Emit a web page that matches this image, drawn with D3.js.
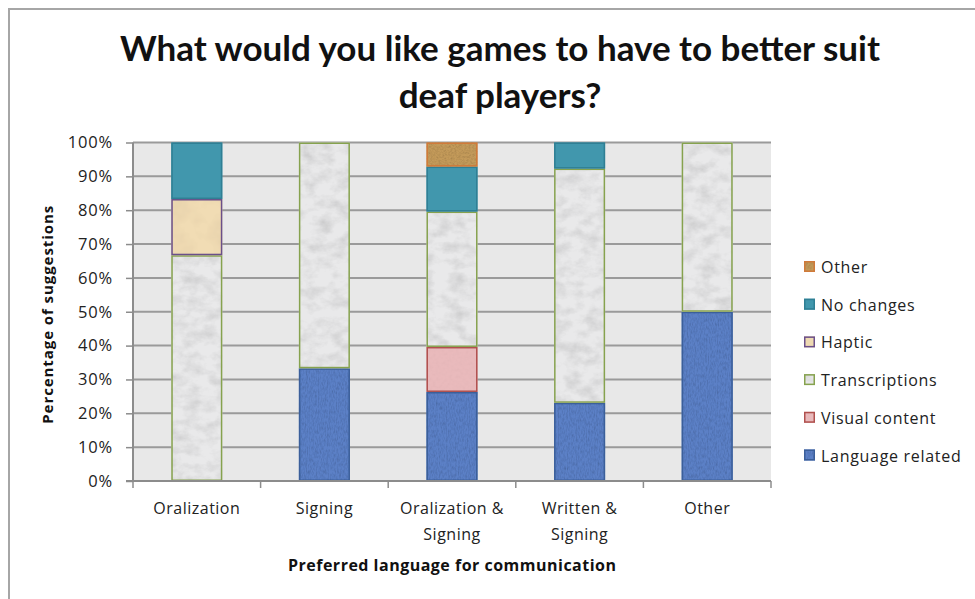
<!DOCTYPE html>
<html><head><meta charset="utf-8">
<script src="https://cdn.jsdelivr.net/npm/d3@7"></script>
<style>
html,body{margin:0;padding:0;background:#fff;}
svg{display:block;}
text{font-family:"Open Sans",Lato,sans-serif;}
</style></head>
<body>
<svg id="chart" width="975" height="599"></svg>
<script>
const categories = [["Oralization"],["Signing"],["Oralization &","Signing"],["Written &","Signing"],["Other"]];
const seriesNames = ["Language related","Visual content","Transcriptions","Haptic","No changes","Other"];
const languageRelated = [0, 33.3, 26.3, 23.1, 50];
const visualContent   = [0, 0, 13.3, 0, 0];
const transcriptions  = [66.7, 66.7, 40.0, 69.2, 50];
const haptic          = [16.6, 0, 0, 0, 0];
const noChanges       = [16.7, 0, 13.3, 7.7, 0];
const otherVals       = [0, 0, 7.1, 0, 0];
const yTicks = [0,10,20,30,40,50,60,70,80,90,100];

const fills   = ["#5b80c6","#e9babc","#e9e9ea","#f1dcb4","#4197ad","#c39a5a"];
const strokes = ["#3b5f9a","#b0504e","#86a24e","#6a4f8a","#2f7f94","#d07a3a"];
const textures = ["weave","smooth","marble","paper","none","sand"];

const svg = d3.select("#chart");
const W = 975, H = 599;
const m = {left:133, right:204, top:142.5, bottom:118};
const pw = W - m.left - m.right, ph = H - m.top - m.bottom;

// frame
svg.append("rect").attr("x",9).attr("y",9).attr("width",1000).attr("height",700)
  .attr("fill","#fff").attr("stroke","#a6a6a6").attr("stroke-width",2);

// filters for textures
const defs = svg.append("defs");
function makeFilter(id, freq, oct, amount, seed){
  const f = defs.append("filter").attr("id",id).attr("x",0).attr("y",0).attr("width",1).attr("height",1);
  f.append("feTurbulence").attr("type","fractalNoise").attr("baseFrequency",freq).attr("numOctaves",oct).attr("seed",seed).attr("result","noise");
  f.append("feColorMatrix").attr("in","noise").attr("type","luminanceToAlpha").attr("result","la");
  const ct = f.append("feComponentTransfer").attr("in","la").attr("result","la2");
  ct.append("feFuncA").attr("type","linear").attr("slope",amount*2.2).attr("intercept",-amount*0.9);
  f.append("feComposite").attr("in","la2").attr("in2","SourceGraphic").attr("operator","in").attr("result","tex");
  const mg = f.append("feMerge");
  mg.append("feMergeNode").attr("in","SourceGraphic");
  mg.append("feMergeNode").attr("in","tex");
}
makeFilter("weave","0.9 0.25",2,0.35,3);
makeFilter("marble","0.06 0.09",4,0.28,7);
makeFilter("paper","0.05",3,0.12,5);
makeFilter("sand","0.5",3,0.3,9);
makeFilter("smooth","0.3",2,0.05,4);

const g = svg.append("g").attr("transform",`translate(${m.left},${m.top})`);

const x = d3.scaleBand().domain(d3.range(categories.length)).range([0,pw]).paddingInner(0.6).paddingOuter(0.3);
const y = d3.scaleLinear().domain([0,100]).range([ph,0]);

// plot background
g.append("rect").attr("width",pw).attr("height",ph).attr("fill","#e8e8e8");

// gridlines
g.append("g").selectAll("line").data(yTicks.filter(d=>d>0)).join("line")
  .attr("x1",0).attr("x2",pw).attr("y1",d=>y(d)).attr("y2",d=>y(d))
  .attr("stroke","#9a9a9a").attr("stroke-width",2);

// data rows
const rows = categories.map((c,i)=>({
  "Language related":languageRelated[i],"Visual content":visualContent[i],"Transcriptions":transcriptions[i],
  "Haptic":haptic[i],"No changes":noChanges[i],"Other":otherVals[i], idx:i}));
const stacked = d3.stack().keys(seriesNames)(rows);

stacked.forEach((s,si)=>{
  const gs = g.append("g");
  const segs = s.filter(d=>d[1]-d[0]>0.01);
  gs.selectAll("rect.f").data(segs).join("rect").attr("class","f")
    .attr("x",d=>x(d.data.idx)).attr("width",x.bandwidth())
    .attr("y",d=>y(d[1])).attr("height",d=>y(d[0])-y(d[1]))
    .attr("fill",fills[si])
    .attr("filter",textures[si]==="none"?null:`url(#${textures[si]})`);
  gs.selectAll("rect.s").data(segs).join("rect").attr("class","s")
    .attr("x",d=>x(d.data.idx)+0.75).attr("width",x.bandwidth()-1.5)
    .attr("y",d=>y(d[1])+0.75).attr("height",d=>y(d[0])-y(d[1])-1.5)
    .attr("fill","none").attr("stroke",strokes[si]).attr("stroke-width",1.5);
});

// y axis
const yAxis = g.append("g").call(d3.axisLeft(y).tickValues(yTicks).tickFormat(d=>d+"%").tickSize(7).tickPadding(13));
yAxis.select(".domain").attr("stroke","#8c8c8c").attr("stroke-width",2).attr("d",`M-7,${ph}H0V0`);
yAxis.selectAll(".tick line").attr("stroke","#8c8c8c").attr("stroke-width",1.5);
yAxis.selectAll(".tick text").attr("font-size",16.5).attr("letter-spacing",0.8).attr("fill","#222");

// x axis
const xAxisG = g.append("g").attr("transform",`translate(0,${ph})`);
xAxisG.append("line").attr("x1",0).attr("x2",pw).attr("stroke","#8c8c8c").attr("stroke-width",2);
const step = pw/categories.length;
xAxisG.selectAll("line.t").data(d3.range(categories.length+1)).join("line").attr("class","t")
  .attr("x1",d=>d*step).attr("x2",d=>d*step).attr("y1",0).attr("y2",7)
  .attr("stroke","#8c8c8c").attr("stroke-width",1.5);
const xl = xAxisG.selectAll("text.cat").data(categories).join("text").attr("class","cat")
  .attr("x",(d,i)=>x(i)+x.bandwidth()/2).attr("text-anchor","middle")
  .attr("font-size",16).attr("letter-spacing",0.5).attr("fill","#222");
xl.each(function(d){
  const t = d3.select(this);
  d.forEach((ln,j)=>t.append("tspan").attr("x",t.attr("x")).attr("y",33+j*26).text(ln));
});

// axis titles
svg.append("text").attr("x",m.left+pw/2).attr("y",571).attr("text-anchor","middle")
  .attr("font-size",16).attr("font-weight","bold").attr("fill","#111")
  .attr("textLength",328).attr("lengthAdjust","spacing").text("Preferred language for communication");
svg.append("text").attr("transform",`translate(53,${m.top+ph/2+3}) rotate(-90)`).attr("text-anchor","middle")
  .attr("font-size",15).attr("font-weight","bold").attr("fill","#111")
  .attr("textLength",218).attr("lengthAdjust","spacing").text("Percentage of suggestions");

// title
const title = svg.append("text").attr("text-anchor","middle").attr("font-size",35).attr("font-weight","bold")
  .attr("fill","#111").style("font-family","Lato, sans-serif");
title.append("tspan").attr("x",500).attr("y",61).text("What would you like games to have to better suit");
title.append("tspan").attr("x",500).attr("y",108).text("deaf players?");

// legend
const legendOrder = seriesNames.map((n,i)=>i).reverse();
const lg = svg.append("g").attr("transform","translate(804,267)");
const li = lg.selectAll("g").data(legendOrder).join("g").attr("transform",(d,k)=>`translate(0,${k*37.7})`);
li.append("rect").attr("x",0).attr("y",-6).attr("width",11).attr("height",11)
  .attr("fill",d=>fills[d]).attr("filter",d=>textures[d]==="none"?null:`url(#${textures[d]})`);
li.append("rect").attr("x",0.75).attr("y",-5.25).attr("width",9.5).attr("height",9.5)
  .attr("fill","none").attr("stroke",d=>strokes[d]).attr("stroke-width",1.5);
li.append("text").attr("x",17).attr("y",6).attr("font-size",16).attr("letter-spacing",0.7).attr("fill","#222").text(d=>seriesNames[d]);
</script>
</body></html>
